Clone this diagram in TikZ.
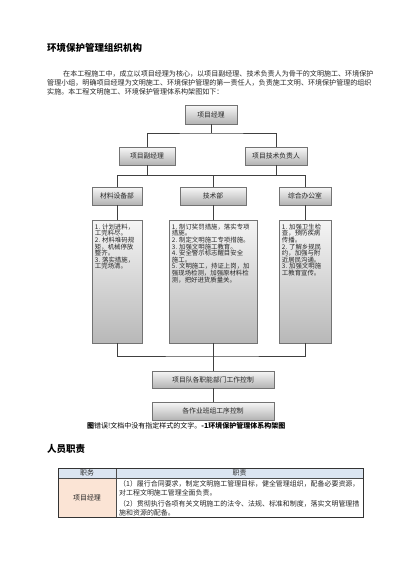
\documentclass[tikz,border=0pt]{standalone}
\usepackage{fontspec}
\setmainfont{Noto Sans CJK SC}
\usetikzlibrary{shadows}
\definecolor{hdrblue}{HTML}{DBE5F1}
\definecolor{peach}{HTML}{FBE4D5}
\begin{document}
\begin{tikzpicture}[x=1pt,y=-1pt,
  box/.style={draw=black!55, line width=0.5pt, top color=black!3, bottom color=black!30,
    drop shadow={shadow xshift=1.3pt, shadow yshift=-1.3pt, fill=black!60, opacity=0.8},
    inner sep=0pt, font=\fontsize{6.8}{7}\selectfont, text=black!85},
  descbox/.style={draw=black!55, line width=0.5pt, top color=black!4, bottom color=black!28,
    drop shadow={shadow xshift=1.3pt, shadow yshift=-1.3pt, fill=black!60, opacity=0.8},
    inner sep=0pt},
  desctext/.style={anchor=north west, inner sep=0pt, align=left,
    font=\fontsize{6.4}{6.6}\selectfont, text=black!85},
  link/.style={draw=black!75, line width=0.6pt},
  para/.style={anchor=base west, inner sep=0pt, font=\fontsize{7.05}{8}\selectfont, text=black!85},
  heading/.style={anchor=base west, inner sep=0pt, font=\fontsize{9.5}{10}\selectfont\bfseries},
  tabtext/.style={anchor=base west, inner sep=0pt, font=\fontsize{6.95}{8}\selectfont, text=black!85}
]
\useasboundingbox (0,0) rectangle (400,565);
\fill[white] (0,0) rectangle (400,565);

% title and paragraph
\node[heading] (title) at (47,51.5) {环境保护管理组织机构};
\node[para] (p1) at (63,76) {在本工程施工中，成立以项目经理为核心，以项目副经理、技术负责人为骨干的文明施工、环境保护};
\node[para] (p2) at (47,85) {管理小组，明确项目经理为文明施工、环境保护管理的第一责任人，负责施工文明、环境保护管理的组织};
\node[para] (p3) at (47,94) {实施。本工程文明施工、环境保护管理体系构架图如下：};

% boxes
\node[box, minimum width=52pt, minimum height=19pt] (pm) at (211,114.5) {项目经理};
\node[box, minimum width=56pt, minimum height=18pt] (dpm) at (147,156) {项目副经理};
\node[box, minimum width=62pt, minimum height=18pt] (tech) at (276,156) {项目技术负责人};
\node[box, minimum width=50pt, minimum height=18pt] (mat) at (117,196) {材料设备部};
\node[box, minimum width=66pt, minimum height=18pt] (jsb) at (213,196) {技术部};
\node[box, minimum width=52pt, minimum height=18pt] (zh) at (305,196) {综合办公室};

\node[descbox, minimum width=50pt, minimum height=123pt] (d1) at (117,281.5) {};
\node[descbox, minimum width=88pt, minimum height=123pt] (d2) at (213,281.5) {};
\node[descbox, minimum width=52pt, minimum height=123pt] (d3) at (305,281.5) {};

\node[desctext] (t1) at ([xshift=3pt,yshift=-4pt]d1.north west) {1. 计划进料，\\工完料尽。\\2. 材料堆码规\\矩，机械停放\\整齐。\\3. 落实措施，\\工完场清。};
\node[desctext] (t2) at ([xshift=3pt,yshift=-4pt]d2.north west) {1. 制订奖罚措施，落实专项\\措施。\\2. 制定文明施工专项措施。\\3. 加强文明施工教育。\\4. 安全警示标志醒目安全\\施工。\\5. 文明施工，持证上岗，加\\强现场检测，加强原材料检\\测，把好进货质量关。};
\node[desctext] (t3) at ([xshift=3pt,yshift=-4pt]d3.north west) {1. 加强卫生检\\查，预防疾病\\传播。\\2. 了解乡规民\\约，加强与附\\近居民沟通。\\3. 加强文明施\\工教育宣传。};

\node[box, minimum width=122pt, minimum height=17pt] (c1) at (213,379.5) {项目队各职能部门工作控制};
\node[box, minimum width=122pt, minimum height=18pt] (c2) at (213,411) {各作业班组工序控制};

% connectors
\coordinate (j1) at (211,133);
\coordinate (j2) at (213,175);
\coordinate (j3) at (213,356);
\draw[link] (pm.south) -- (j1);
\draw[link] (dpm.north) |- (j1) -| (tech.north);
\draw[link] (dpm.south) |- (j2);
\draw[link] (tech.south) |- (j2);
\draw[link] (mat.north) |- (j2) -| (zh.north);
\draw[link] (jsb.north) -- (j2);
\draw[link] (mat.south) -- (d1.north);
\draw[link] (jsb.south) -- (d2.north);
\draw[link] (zh.south) -- (d3.north);
\draw[link] (d1.south) |- (j3) -| (d3.south);
\draw[link] (d2.south) -- (j3);
\draw[link] (j3) -- (c1.north);
\draw[link] (c1.south) -- (c2.north);

% caption
\node[anchor=base west, inner sep=0pt, font=\fontsize{7}{8}\selectfont] (cap) at (87,428.5)
  {\textbf{图}错误!文档中没有指定样式的文字。\textbf{-1环境保护管理体系构架图}};

% second heading
\node[heading] (h2) at (47,452.5) {人员职责};

% table
\fill[hdrblue] (58,468) rectangle (363,478);
\fill[peach] (58,478) rectangle (116,517);
\draw[black!70, line width=0.5pt] (58,478) -- (363,478);
\draw[black!70, line width=0.5pt] (116,468) -- (116,517);
\draw[black!80, line width=0.7pt] (58,468) rectangle (363,517);
\node[anchor=base, inner sep=0pt, font=\fontsize{6.95}{8}\selectfont, text=black!85] (th1) at (87,475.5) {职务};
\node[anchor=base, inner sep=0pt, font=\fontsize{6.95}{8}\selectfont, text=black!85] (th2) at (239.5,475.5) {职责};
\node[anchor=base, inner sep=0pt, font=\fontsize{6.95}{8}\selectfont, text=black!85] (tc1) at (87,500.5) {项目经理};
\node[tabtext] (r1) at (119,486.5) {（1）履行合同要求，制定文明施工管理目标，健全管理组织，配备必要资源，};
\node[tabtext] (r2) at (119,495.5) {对工程文明施工管理全面负责。};
\node[tabtext] (r3) at (119,506.5) {（2）贯彻执行各项有关文明施工的法令、法规、标准和制度，落实文明管理措};
\node[tabtext] (r4) at (119,515) {施和资源的配备。};
\end{tikzpicture}
\end{document}
